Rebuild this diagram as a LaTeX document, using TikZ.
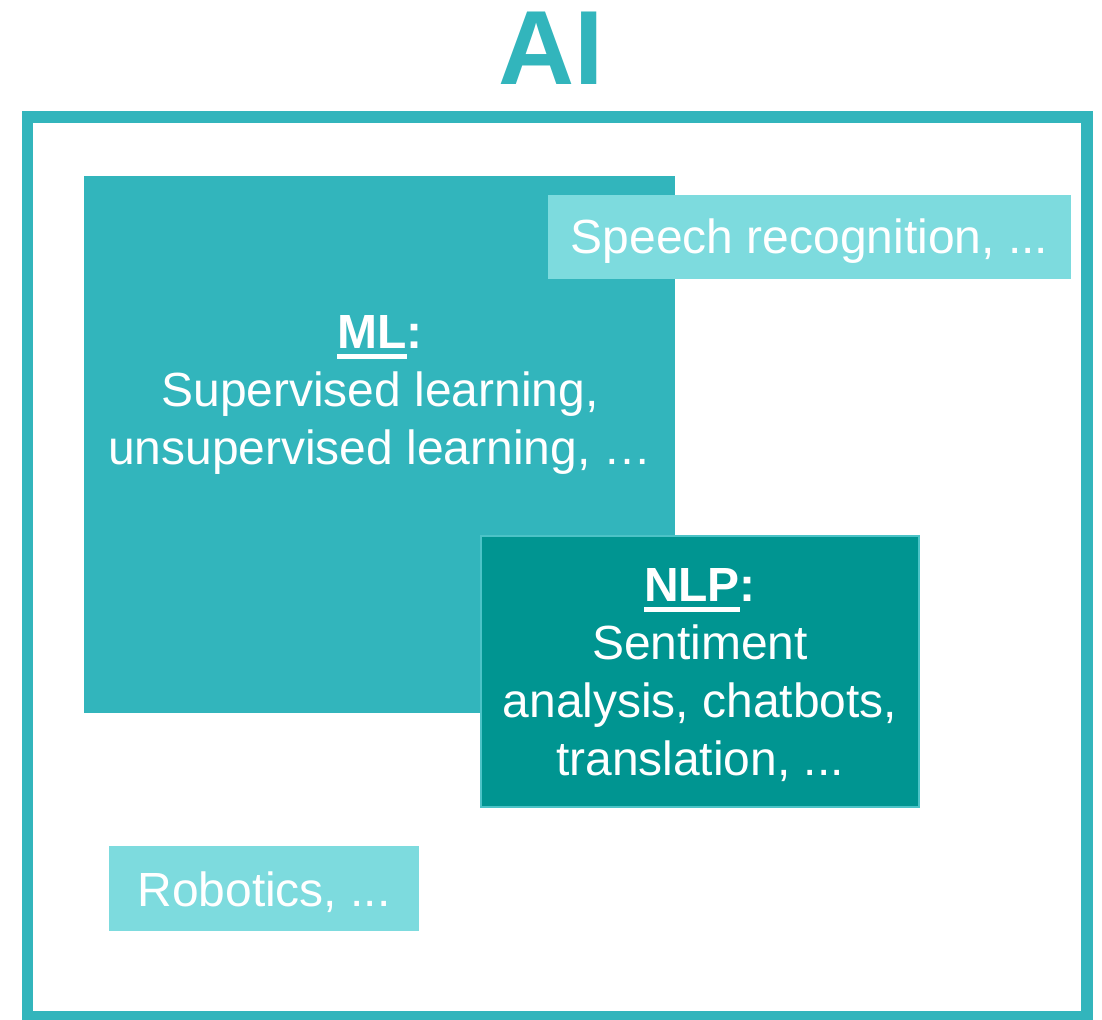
\documentclass[tikz,border=0pt]{standalone}
\usepackage{fontspec}
\setmainfont{Liberation Sans}
\usepackage{xcolor}

\definecolor{aiTeal}{HTML}{32B5BC}
\definecolor{lightTeal}{HTML}{7DDBDE}
\definecolor{darkTeal}{HTML}{009591}
\definecolor{edgeTeal}{HTML}{4CC3C7}

% bold title with a thick underline under the name only
\newcommand{\boxtitle}[1]{{\bfseries\setbox0\hbox{#1}\rlap{\rule[-6pt]{\wd0}{3.2pt}}#1:}}

\begin{document}
\begin{tikzpicture}[x=0.02cm, y=-0.02cm,
    every node/.style={inner sep=0pt, outer sep=0pt},
    field/.style={rectangle, fill=#1, text=white, align=center,
        font=\fontsize{27.3}{32.9}\selectfont}]
    \useasboundingbox (0, 0) rectangle (1102, 1020);

    \node[font=\fontsize{60}{60}\selectfont\bfseries, color=aiTeal] (ai) at (551, 48) {AI};
    \node[draw=aiTeal, line width=6.5pt, minimum width=21.19cm, minimum height=17.99cm] (frame) at (557.25, 566.75) {};

    \node[field=aiTeal, minimum width=11.82cm, minimum height=10.74cm] (ml) at (379.5, 444.5) {};
    \node[field=aiTeal, fill=none] (mltext) at (380, 395) {\boxtitle{ML}\\Supervised learning,\\unsupervised learning, …};

    \node[field=lightTeal, minimum width=10.46cm, minimum height=1.68cm] (speech) at (809.5, 237) {};
    \node[field=lightTeal, fill=none] (speechtext) at (809.5, 241) {Speech recognition, ...};

    \node[field=darkTeal, draw=edgeTeal, line width=1.1pt, minimum width=8.76cm, minimum height=5.42cm] (nlp) at (700, 671.5) {};
    \node[field=darkTeal, fill=none] (nlptext) at (700, 675)
        {\boxtitle{NLP}\\Sentiment\\analysis, chatbots,\\translation, ...};

    \node[field=lightTeal, minimum width=6.2cm, minimum height=1.7cm] (robotics) at (264, 888.5) {};
    \node[field=lightTeal, fill=none] (roboticstext) at (264, 892) {Robotics, ...};
\end{tikzpicture}
\end{document}
